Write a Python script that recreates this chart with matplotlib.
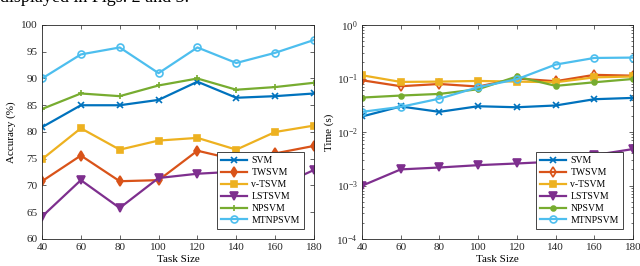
import matplotlib.pyplot as plt
import numpy as np

plt.rcParams['font.family'] = ['Liberation Serif', 'DejaVu Serif']
plt.rcParams['font.size'] = 8

task_size = [40, 60, 80, 100, 120, 140, 160, 180]
methods = ['SVM', 'TWSVM', 'v-TSVM', 'LSTSVM', 'NPSVM', 'MTNPSVM']

# accuracy (%)
acc_svm = [80.9, 85.0, 85.0, 86.0, 89.4, 86.4, 86.7, 87.2]
acc_twsvm = [70.8, 75.6, 70.8, 71.0, 76.5, 74.8, 76.0, 77.4]
acc_vtsvm = [74.9, 80.7, 76.7, 78.4, 78.9, 76.7, 80.0, 81.2]
acc_lstsvm = [64.2, 71.0, 65.8, 71.4, 72.2, 72.6, 69.6, 72.9]
acc_npsvm = [84.3, 87.2, 86.7, 88.7, 90.0, 87.9, 88.4, 89.2]
acc_mtnpsvm = [90.0, 94.5, 95.8, 91.0, 95.8, 92.9, 94.8, 97.2]

# training time (s)
t_svm = [0.0195, 0.030, 0.0238, 0.0303, 0.029, 0.0313, 0.041, 0.0434]
t_twsvm = [0.0927, 0.0717, 0.079, 0.0707, 0.100, 0.089, 0.117, 0.113]
t_vtsvm = [0.115, 0.0863, 0.0875, 0.090, 0.0875, 0.085, 0.105, 0.109]
t_lstsvm = [0.00099, 0.0020, 0.00217, 0.0024, 0.00258, 0.0028, 0.0037, 0.0048]
t_npsvm = [0.044, 0.048, 0.0515, 0.063, 0.109, 0.0728, 0.085, 0.098]
t_mtnpsvm = [0.0238, 0.0295, 0.042, 0.0687, 0.0968, 0.182, 0.242, 0.246]

colors = ['#0072BD', '#D95319', '#EDB120', '#7E2F8E', '#77AC30', '#4DBEEE']
left_markers = ['x', 'd', 's', 'v', '+', 'o']
right_markers = ['x', 'd', 's', 'v', 'o', 'o']
right_fill = [True, False, True, True, True, False]

fig = plt.figure(figsize=(6.4, 2.66), dpi=100)
ax1 = fig.add_axes([42 / 640, 1 - 239 / 266, 272 / 640, 214 / 266])
ax2 = fig.add_axes([362 / 640, 1 - 239 / 266, 271 / 640, 214 / 266])

acc = [acc_svm, acc_twsvm, acc_vtsvm, acc_lstsvm, acc_npsvm, acc_mtnpsvm]
for name, vals, c, m in zip(methods, acc, colors, left_markers):
    fill = m in ('d', 's', 'v')
    ax1.plot(task_size, vals, color=c, lw=1.6, marker=m, ms=5 if m != 'v' else 6,
             mfc=c if fill else 'none', mew=1.2, label=name)

times = [t_svm, t_twsvm, t_vtsvm, t_lstsvm, t_npsvm, t_mtnpsvm]
for name, vals, c, m, f in zip(methods, times, colors, right_markers, right_fill):
    ms = 5
    if name == 'NPSVM':
        ms = 3.5
    if name == 'LSTSVM':
        ms = 6
    ax2.plot(task_size, vals, color=c, lw=1.6, marker=m, ms=ms,
             mfc=c if f else 'none', mew=1.2, label=name)

ax1.set_xlim(40, 180)
ax1.set_ylim(60, 100)
ax1.set_xticks(task_size)
ax1.set_yticks(np.arange(60, 101, 5))
ax1.set_ylabel('Accuracy (%)', labelpad=4)
ax1.set_xlabel('Task Size', labelpad=2)

ax2.set_yscale('log')
ax2.set_xlim(40, 180)
ax2.set_ylim(1e-4, 1)
ax2.set_xticks(task_size)
ax2.set_yticks([1e-4, 1e-3, 1e-2, 1e-1, 1])
ax2.set_ylabel('Time (s)', labelpad=2)
ax2.set_xlabel('Task Size', labelpad=2)

for ax in (ax1, ax2):
    ax.tick_params(direction='in', top=True, right=True, length=3, width=0.5,
                   colors='#262626', labelsize=8, pad=3)
    ax.tick_params(which='minor', direction='in', top=False, right=True, length=1.5, width=0.4)
    for s in ax.spines.values():
        s.set_linewidth(0.6)
        s.set_color('#262626')
    leg = ax.legend(loc='lower right', bbox_to_anchor=(0.98, 0.025), fontsize=7,
                    handlelength=2.6, handletextpad=0.5, labelspacing=0.3,
                    borderpad=0.4, fancybox=False, framealpha=1)
    leg.get_frame().set_edgecolor('#262626')
    leg.get_frame().set_linewidth(0.6)

# caption line from the page above the figure, cut at the top edge as in the source
fig.text(0.0, 1.01, 'displayed in Figs. 2 and 3.', fontsize=13, ha='left', va='center')

fig.savefig('out.png', dpi=100)
